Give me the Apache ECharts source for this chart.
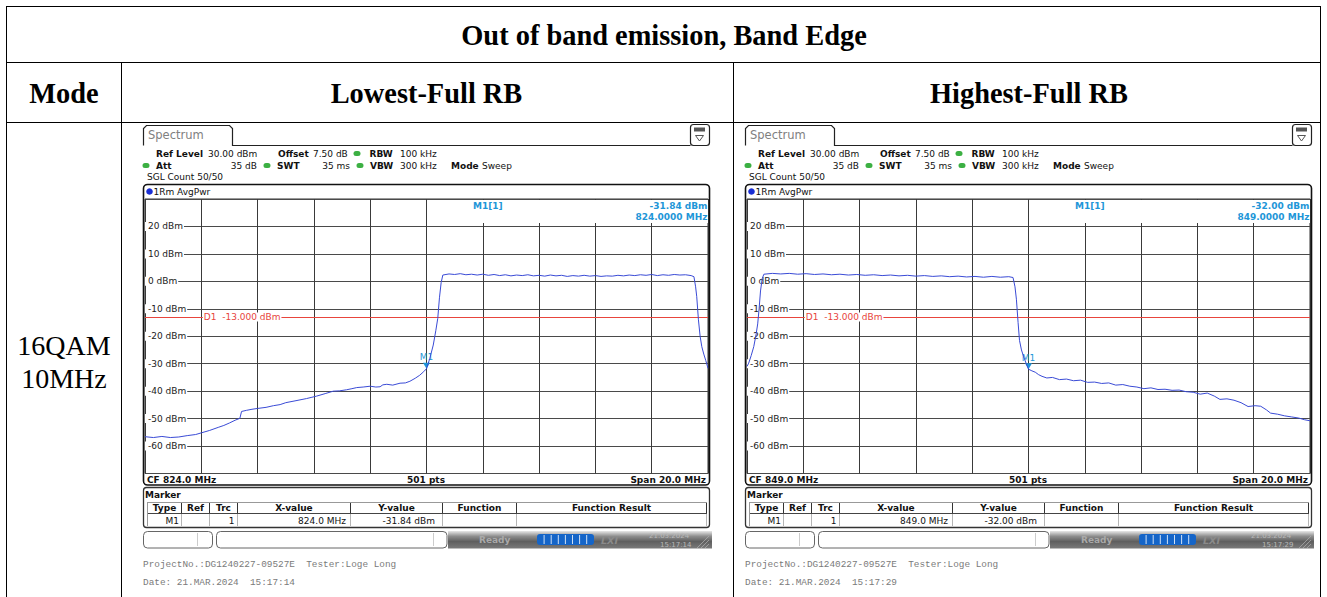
<!DOCTYPE html>
<html><head><meta charset="utf-8">
<script src="https://cdn.jsdelivr.net/npm/echarts@6/dist/echarts.min.js"></script>
<style>html,body{margin:0;padding:0;background:#fff}#c{width:1327px;height:597px}</style>
</head><body><div id="c"></div>
<script>
// ---------------- data ----------------
const pageTitle = 'Out of band emission, Band Edge';
const columnHeaders = ['Mode', 'Lowest-Full RB', 'Highest-Full RB'];
const modeLines = ['16QAM', '10MHz'];
const yTickValues = [20, 10, 0, -10, -20, -30, -40, -50, -60];
const limitDbm = -13;
const centerFreqs = [824.0, 849.0];
const spanMHz = 20;
const markerFreqs = [824.0, 849.0];
const markerDbm = [-31.84, -32.00];
const timeStamps = ['15:17:14', '15:17:29'];

const lowFreq = [814.0,814.3,814.6,814.9,815.2,815.5,815.8,816.0,816.3,816.6,816.8,817.0,817.2,817.37,817.43,817.6,817.8,818.0,818.3,818.56,818.8,819.0,819.15,819.4,819.74,819.9,820.1,820.4,820.69,820.9,821.16,821.35,821.52,821.75,822.0,822.2,822.35,822.45,822.59,822.8,823.06,823.25,823.41,823.6,823.76,823.9,824.0,824.12,824.24,824.33,824.4,824.46,824.52,824.58,824.8,825.0,825.2,825.4,825.6,825.8,826.0,826.2,826.4,826.6,826.8,827.0,827.2,827.4,827.6,827.8,828.0,828.2,828.4,828.6,828.8,829.0,829.2,829.4,829.6,829.8,830.0,830.2,830.4,830.6,830.8,831.0,831.2,831.4,831.6,831.8,832.0,832.2,832.4,832.6,832.8,833.0,833.2,833.4,833.5,833.56,833.6,833.66,833.72,833.78,833.85,833.92,834.0];
const lowDbm = [-56.6,-56.9,-56.5,-56.9,-56.7,-56.2,-55.8,-55.2,-54.3,-53.2,-52.5,-51.6,-50.6,-49.9,-47.4,-47.0,-46.6,-46.3,-45.9,-45.3,-44.9,-44.2,-43.9,-43.4,-42.7,-42.3,-41.8,-40.9,-40.0,-39.9,-39.5,-39.1,-38.7,-38.5,-38.2,-38.5,-38.4,-37.7,-37.5,-37.8,-37.1,-37.0,-36.4,-35.3,-34.2,-32.9,-31.84,-28.0,-23.2,-18.0,-13.5,-6.0,-0.5,2.3,2.7,2.5,2.8,2.4,2.6,2.3,2.6,2.2,2.5,2.1,2.4,2.0,2.3,2.1,2.4,2.0,2.2,1.9,2.3,2.0,2.2,1.8,2.1,1.9,2.2,1.9,2.1,1.8,2.0,1.9,2.2,2.0,2.3,2.1,2.4,2.2,2.5,2.1,2.4,2.2,2.5,2.3,2.4,2.1,1.7,-2.0,-5.6,-14.0,-20.0,-23.8,-26.5,-28.8,-31.7];

const highFreq = [839.0,839.06,839.15,839.24,839.32,839.38,839.43,839.48,839.54,839.6,839.9,840.2,840.5,840.8,841.1,841.4,841.7,842.0,842.3,842.6,842.9,843.2,843.5,843.8,844.1,844.4,844.7,845.0,845.3,845.6,845.9,846.2,846.5,846.8,847.1,847.4,847.7,848.0,848.3,848.45,848.52,848.57,848.63,848.68,848.75,848.83,848.92,849.0,849.12,849.24,849.36,849.48,849.65,849.85,850.1,850.35,850.6,850.85,851.1,851.35,851.6,851.85,852.1,852.35,852.6,852.85,853.1,853.35,853.6,853.85,854.1,854.35,854.6,854.85,855.1,855.35,855.6,855.8,856.05,856.3,856.55,856.8,857.05,857.25,857.45,857.6,857.85,858.1,858.35,858.6,858.8,859.0];
const highDbm = [-31.0,-29.8,-27.0,-23.8,-19.5,-15.5,-10.0,-3.5,1.0,2.6,2.9,2.7,2.9,2.6,2.8,2.5,2.7,2.4,2.6,2.3,2.5,2.2,2.4,2.1,2.3,2.0,2.2,1.9,2.1,1.8,2.0,1.7,1.9,1.6,1.8,1.5,1.8,1.5,1.7,1.4,-2.0,-6.5,-15.0,-21.5,-25.0,-27.5,-30.0,-32.0,-32.6,-33.1,-34.0,-34.6,-35.2,-35.0,-35.8,-35.6,-36.2,-36.0,-36.8,-36.7,-37.2,-37.0,-37.8,-37.6,-38.2,-38.5,-39.1,-38.8,-39.4,-39.3,-39.7,-39.6,-40.2,-40.4,-41.1,-40.7,-41.8,-43.0,-42.8,-43.3,-44.2,-45.6,-45.3,-45.5,-46.8,-48.0,-48.4,-49.0,-49.4,-49.8,-50.4,-50.8];

const infoRow1 = ['Ref Level', '30.00 dBm', 'Offset', '7.50 dB', 'RBW', '100 kHz'];
const infoRow2 = ['Att', '35 dB', 'SWT', '35 ms', 'VBW', '300 kHz', 'Mode', 'Sweep'];
const infoRow3 = 'SGL Count 50/50';
const traceLabel = '1Rm AvgPwr';
const markerTableHeads = ['Type', 'Ref', 'Trc', 'X-value', 'Y-value', 'Function', 'Function Result'];
const footerProject = 'ProjectNo.:DG1240227-09527E  Tester:Loge Long';
const footerDate = 'Date: 21.MAR.2024';
const statusDate = '21.03.2024';

// ---------------- drawing ----------------
const F = '"DejaVu Sans", Verdana, sans-serif';
const SERIF = '"Liberation Serif", "Times New Roman", serif';
const MONO = '"Liberation Mono", "Courier New", monospace';
const BLUE_M = '#1e96d8';
const RED = '#e8453c';

function txt(x, y, t, o) {
  o = o || {};
  const size = o.s || 9, w = o.w || 'normal', st = o.st || 'normal';
  return {type: 'text', z: o.z || 30, silent: true,
    style: {x: x, y: y, text: t, fill: o.c || '#111', font: st + ' ' + w + ' ' + size + 'px ' + (o.f || F),
      textAlign: o.a || 'left', textVerticalAlign: 'middle'}};
}
function line(x1, y1, x2, y2, c, lw, z) {
  return {type: 'line', z: z || 25, silent: true, shape: {x1: x1, y1: y1, x2: x2, y2: y2}, style: {stroke: c || '#000', lineWidth: lw || 1}};
}
function rect(x, y, w, h, o) {
  o = o || {};
  return {type: 'rect', z: o.z || 20, silent: true, shape: {x: x, y: y, width: w, height: h, r: o.r || 0},
    style: {fill: o.fill || 'none', stroke: o.stroke || null, lineWidth: o.lw || 1}};
}
function circle(cx, cy, r, c) {
  return {type: 'circle', z: 30, silent: true, shape: {cx: cx, cy: cy, r: r}, style: {fill: c}};
}
function poly(type, pts, style, z) {
  return {type: type, z: z || 25, silent: true, shape: {points: pts}, style: style};
}

function screen(k, dx) {
  const X = v => v + dx;
  const E = [];
  const GREEN = '#3cb043';
  // tab
  E.push(poly('polyline', [[X(143.5), 145.5], [X(143.5), 128.5], [X(146.5), 125.5], [X(229.5), 125.5], [X(232.5), 128.5], [X(232.5), 145.5], [X(690.5), 145.5]],
    {fill: 'none', stroke: '#222', lineWidth: 1.2}));
  E.push(txt(X(148), 135, 'Spectrum', {s: 11.5, c: '#808080'}));
  // icon
  E.push(rect(X(690.5), 124.5, 19, 21, {r: 3, stroke: '#222', lw: 1.2, fill: '#fff'}));
  E.push(rect(X(694), 127.5, 11, 4, {fill: '#555', z: 26}));
  E.push(poly('polygon', [[X(695.5), 135.5], [X(703.5), 135.5], [X(699.5), 141]], {fill: 'none', stroke: '#555', lineWidth: 1}, 26));
  // info rows
  E.push(txt(X(156), 153.5, infoRow1[0], {w: 'bold'}));
  E.push(txt(X(208), 153.5, infoRow1[1]));
  E.push(txt(X(278), 153.5, infoRow1[2], {w: 'bold'}));
  E.push(txt(X(313), 153.5, infoRow1[3]));
  E.push(rect(X(353.5), 151, 7, 5, {r: 2.5, fill: GREEN, z: 30}));
  E.push(txt(X(369.5), 153.5, infoRow1[4], {w: 'bold'}));
  E.push(txt(X(400), 153.5, infoRow1[5]));
  E.push(rect(X(142.5), 163, 7, 5, {r: 2.5, fill: GREEN, z: 30}));
  E.push(txt(X(156), 165.5, infoRow2[0], {w: 'bold'}));
  E.push(txt(X(257), 165.5, infoRow2[1], {a: 'right'}));
  E.push(rect(X(263.5), 163, 7, 5, {r: 2.5, fill: GREEN, z: 30}));
  E.push(txt(X(277), 165.5, infoRow2[2], {w: 'bold'}));
  E.push(txt(X(350), 165.5, infoRow2[3], {a: 'right'}));
  E.push(rect(X(356.5), 163, 7, 5, {r: 2.5, fill: GREEN, z: 30}));
  E.push(txt(X(370), 165.5, infoRow2[4], {w: 'bold'}));
  E.push(txt(X(400), 165.5, infoRow2[5]));
  E.push(txt(X(451), 165.5, infoRow2[6], {w: 'bold'}));
  E.push(txt(X(482), 165.5, infoRow2[7]));
  E.push(txt(X(147), 177, infoRow3));
  // plot frame
  E.push(rect(X(143.5), 184.5, 566, 300.5, {r: 4, stroke: '#111', lw: 1.6, z: 22}));
  E.push(circle(X(149.5), 191.5, 3.3, '#1a2ed4'));
  E.push(txt(X(153.5), 191.5, traceLabel));
  // marker info box
  E.push(rect(X(428), 200, 280, 23, {fill: '#fff', z: 15}));
  E.push(txt(X(473), 205.5, 'M1[1]', {w: 'bold', c: BLUE_M}));
  E.push(txt(X(707.5), 205.5, markerDbm[k].toFixed(2) + ' dBm', {w: 'bold', c: BLUE_M, a: 'right'}));
  E.push(txt(X(707.5), 217, markerFreqs[k].toFixed(4) + ' MHz', {w: 'bold', c: BLUE_M, a: 'right'}));
  // bottom row of plot
  E.push(txt(X(147), 479.5, 'CF ' + centerFreqs[k].toFixed(1) + ' MHz', {w: 'bold'}));
  E.push(txt(X(426), 479.5, '501 pts', {w: 'bold', a: 'center'}));
  E.push(txt(X(706), 479.5, 'Span ' + spanMHz.toFixed(1) + ' MHz', {w: 'bold', a: 'right'}));
  // marker panel
  E.push(rect(X(143.5), 487.5, 566, 40, {r: 3, stroke: '#333', lw: 1.3, z: 22}));
  E.push(txt(X(145), 494.5, 'Marker', {w: 'bold'}));
  E.push(line(X(147), 502.5, X(707), 502.5, '#999', 1));
  E.push(line(X(147), 513.5, X(707), 513.5, '#444', 1));
  E.push(line(X(147.5), 502.5, X(147.5), 526, '#999', 1));
  const seps = [181.5, 209.5, 237.5, 350.5, 442.5, 516.5, 706.5];
  seps.forEach(s => {
    E.push(line(X(s), 503, X(s), 513, '#333', 1));
    E.push(line(X(s), 514, X(s), 526, '#b5b5b5', 1));
  });
  const headCenters = [164.5, 195.5, 223.5, 294, 396.5, 479.5, 611.5];
  markerTableHeads.forEach((h, i) => E.push(txt(X(headCenters[i]), 508, h, {w: 'bold', a: 'center'})));
  E.push(txt(X(179), 520.5, 'M1', {a: 'right'}));
  E.push(txt(X(234.5), 520.5, '1', {a: 'right'}));
  E.push(txt(X(346), 520.5, markerFreqs[k].toFixed(1) + ' MHz', {a: 'right'}));
  E.push(txt(X(435), 520.5, markerDbm[k].toFixed(2) + ' dBm', {a: 'right'}));
  // status bar
  E.push(rect(X(143.5), 531.5, 69, 16.5, {r: 4, stroke: '#666', fill: '#fff'}));
  E.push(line(X(197.5), 533, X(197.5), 546, '#ccc', 1));
  E.push(rect(X(216.5), 531.5, 230.5, 16.5, {r: 4, stroke: '#666', fill: '#fff'}));
  E.push(line(X(433.5), 533, X(433.5), 546, '#ccc', 1));
  E.push({type: 'rect', z: 18, silent: true, shape: {x: X(448), y: 531, width: 264, height: 17.5},
    style: {fill: {type: 'linear', x: 0, y: 0, x2: 0, y2: 1, colorStops: [
      {offset: 0, color: '#e8e8e8'}, {offset: 0.3, color: '#8e8e8e'}, {offset: 0.6, color: '#5f5f5f'}, {offset: 1, color: '#7a7a7a'}]}}});
  E.push(txt(X(479), 540, 'Ready', {w: 'bold', c: '#a9a9a9'}));
  E.push(rect(X(537), 534, 57, 11, {r: 3, fill: '#1565c8', z: 24}));
  for (let i = 1; i < 8; i++) E.push(line(X(537 + i * 7.1), 535, X(537 + i * 7.1), 544, '#cfe0f5', 1, 25));
  E.push(txt(X(601), 540, 'LXI', {w: 'bold', st: 'italic', s: 9.5, c: '#8a8a8a'}));
  E.push(txt(X(649), 536, statusDate, {s: 7, c: '#b9b9b9'}));
  E.push(txt(X(660), 545, timeStamps[k], {s: 7, c: '#b9b9b9'}));
  for (let i = 0; i < 4; i++) E.push(line(X(697 + i * 4), 548, X(709), 548 - (12 - i * 4), '#aaa', 0.8, 24));
  // footer
  E.push(txt(X(143), 564.5, footerProject, {f: MONO, s: 9.4, c: '#7a7a7a'}));
  E.push(txt(X(143), 582, footerDate + '  ' + timeStamps[k], {f: MONO, s: 9.4, c: '#7a7a7a'}));
  return E;
}

const G = [];
// page table
G.push(line(6, 6.5, 1321, 6.5, '#000', 1));
G.push(line(6, 62.5, 1321, 62.5, '#000', 1));
G.push(line(6, 122.5, 1321, 122.5, '#000', 1));
G.push(line(6.5, 6, 6.5, 597, '#000', 1));
G.push(line(1320.5, 6, 1320.5, 597, '#000', 1));
G.push(line(121.5, 62, 121.5, 597, '#000', 1));
G.push(line(733.5, 62, 733.5, 597, '#000', 1));
G.push(txt(664, 35, pageTitle, {f: SERIF, s: 28.4, w: 'bold', a: 'center', c: '#000'}));
G.push(txt(64, 93, columnHeaders[0], {f: SERIF, s: 28.4, w: 'bold', a: 'center', c: '#000'}));
G.push(txt(426.5, 93, columnHeaders[1], {f: SERIF, s: 28.4, w: 'bold', a: 'center', c: '#000'}));
G.push(txt(1029, 93, columnHeaders[2], {f: SERIF, s: 28.4, w: 'bold', a: 'center', c: '#000'}));
G.push(txt(64, 345, modeLines[0], {f: SERIF, s: 28, a: 'center', c: '#000'}));
G.push(txt(64, 378, modeLines[1], {f: SERIF, s: 28, a: 'center', c: '#000'}));
G.push.apply(G, screen(0, 0));
G.push.apply(G, screen(1, 602));

const gridLeft = [145, 747];
const traces = [[lowFreq, lowDbm], [highFreq, highDbm]];

const option = {
  animation: false,
  backgroundColor: '#fff',
  grid: gridLeft.map(l => ({left: l, top: 199, width: 563, height: 274.5, show: true, borderColor: '#333', borderWidth: 1})),
  xAxis: [0, 1].map(i => ({type: 'value', gridIndex: i, min: -spanMHz / 2, max: spanMHz / 2, interval: 2,
    axisLine: {show: false}, axisTick: {show: false}, axisLabel: {show: false},
    splitLine: {show: true, lineStyle: {color: '#3a3a3a', width: 1}}})),
  yAxis: [0, 1].map(i => ({type: 'value', gridIndex: i, min: -70, max: 30, interval: 10,
    axisLine: {show: false}, axisTick: {show: false},
    axisLabel: {show: true, inside: true, margin: 0, color: '#222', fontSize: 9, fontFamily: F,
      backgroundColor: '#fff', padding: [0, 1, 0, 3],
      formatter: v => (yTickValues.indexOf(v) >= 0 ? v + ' dBm' : '')},
    splitLine: {show: true, lineStyle: {color: '#4a4a4a', width: 1}}})),
  series: traces.map((t, i) => ({
    type: 'line', xAxisIndex: i, yAxisIndex: i, showSymbol: false, symbol: 'none', z: 5,
    lineStyle: {color: '#3a4bd6', width: 1},
    data: t[0].map((f, j) => [+(f - centerFreqs[i]).toFixed(3), t[1][j]]),
    markLine: {silent: true, symbol: ['none', 'none'], label: {show: false},
      lineStyle: {color: RED, width: 1, type: 'solid'}, data: [{yAxis: limitDbm}]},
    markPoint: {silent: true, data: [
      {coord: [markerFreqs[i] - centerFreqs[i], markerDbm[i]], symbol: 'path://M0,0L8,0L4,7Z', symbolSize: [7, 6], symbolOffset: [0, '-50%'],
        itemStyle: {color: BLUE_M},
        label: {show: true, position: 'top', distance: 1, formatter: 'M1', color: BLUE_M, fontSize: 9, fontFamily: F}},
      {coord: [-8, limitDbm], symbol: 'rect', symbolSize: 1, itemStyle: {color: 'rgba(0,0,0,0)'},
        label: {show: true, position: 'right', distance: 1, formatter: 'D1  -13.000 dBm', color: RED, fontSize: 9, fontFamily: F,
          backgroundColor: '#fff', padding: [0, 1]}}
    ]}
  })),
  graphic: {elements: G}
};
const chart = echarts.init(document.getElementById('c'), null, {renderer: 'svg', width: 1327, height: 597});
chart.setOption(option);
</script></body></html>
